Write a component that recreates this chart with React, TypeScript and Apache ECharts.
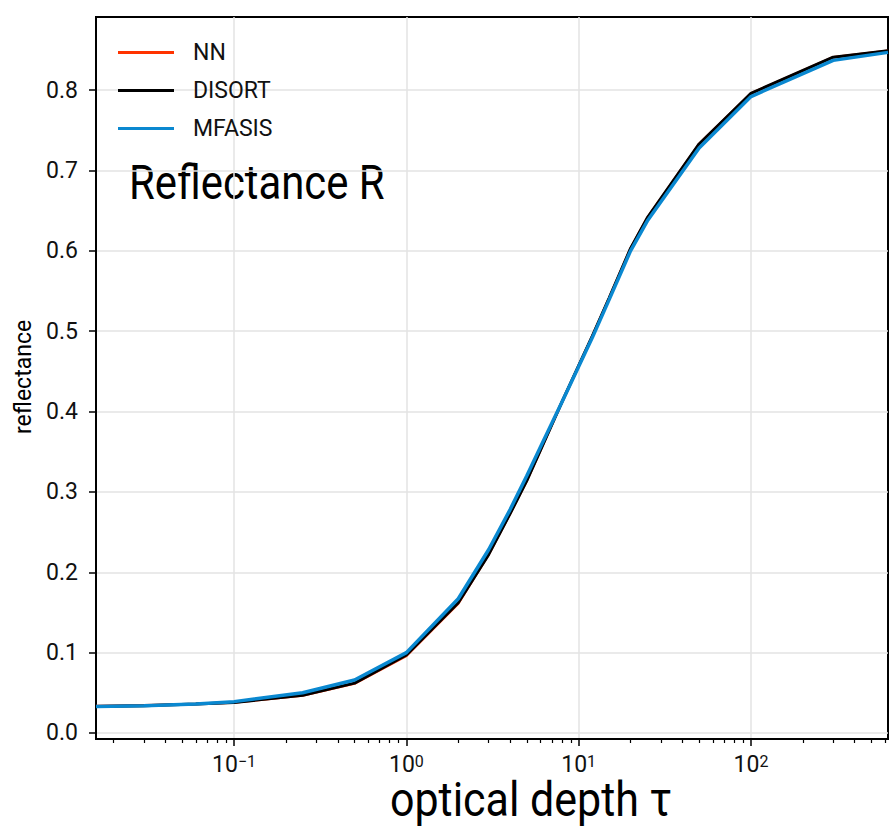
import React, { useEffect, useRef } from 'react';
import * as echarts from 'echarts';

// optical depth tau values
const tau = [0.0158, 0.03, 0.06, 0.1, 0.25, 0.5, 1, 2, 3, 4, 5, 6, 8, 10, 12, 15, 20, 25, 50, 100, 300, 624];
const nnValues = [0.0335, 0.0345, 0.036, 0.038, 0.0465, 0.0615, 0.096, 0.161, 0.222, 0.273, 0.314, 0.352, 0.412, 0.457, 0.494, 0.541, 0.603, 0.641, 0.733, 0.796, 0.841, 0.849];
const disortValues = [0.033, 0.034, 0.036, 0.038, 0.047, 0.062, 0.097, 0.162, 0.222, 0.273, 0.314, 0.352, 0.412, 0.457, 0.494, 0.541, 0.603, 0.641, 0.733, 0.796, 0.841, 0.849];
const mfasisValues = [0.033, 0.034, 0.036, 0.039, 0.050, 0.066, 0.100, 0.167, 0.228, 0.278, 0.320, 0.356, 0.412, 0.456, 0.492, 0.539, 0.600, 0.637, 0.728, 0.792, 0.837, 0.847];

const xMajorExp = [-1, 0, 1, 2];
const yTickValues = [0, 0.1, 0.2, 0.3, 0.4, 0.5, 0.6, 0.7, 0.8];
const seriesNames = ['NN', 'DISORT', 'MFASIS'];
const seriesColors = ['#ff3300', '#000000', '#0a88d0'];
const seriesWidths = [2.5, 3, 3.5];

const FONT = 'Roboto';

export default function App() {
  const ref = useRef<HTMLDivElement>(null);
  useEffect(() => {
    if (!ref.current) return;
    const chart = echarts.init(ref.current, null, { renderer: 'svg' });
    const xMin = Math.log10(tau[0]);
    const xMax = Math.log10(tau[tau.length - 1]);
    const minor: number[] = [];
    for (let n = -2; n <= 2; n++) {
      for (let k = 2; k <= 9; k++) {
        const v = Math.log10(k) + n;
        if (v > xMin && v < xMax) minor.push(v);
      }
    }
    const all = [nnValues, disortValues, mfasisValues];
    const series = all.map((vals, i) => ({
      name: seriesNames[i],
      type: 'line',
      xAxisIndex: 0,
      data: tau.map((t, j) => [Math.log10(t), vals[j]]),
      showSymbol: false,
      symbol: 'none',
      lineStyle: { color: seriesColors[i], width: seriesWidths[i] },
      itemStyle: { color: seriesColors[i] },
      z: 2 + i,
    }));
    chart.setOption({
      animation: false,
      grid: {
        left: 96, top: 17, right: 7, bottom: 90,
        show: true, borderColor: '#000', borderWidth: 2,
      },
      legend: {
        orient: 'vertical',
        left: 118, top: 40,
        padding: 0,
        icon: 'rect',
        itemWidth: 56,
        itemHeight: 3,
        itemGap: 13,
        data: seriesNames,
        textStyle: { fontFamily: FONT, fontSize: 23, color: '#111', lineHeight: 25, padding: [0, 0, 0, 14] },
      },
      xAxis: [
        {
          type: 'value', min: xMin, max: xMax,
          axisLine: { show: true, onZero: false, lineStyle: { color: '#000', width: 2 } },
          axisTick: { show: true, customValues: xMajorExp, length: 7, lineStyle: { color: '#000', width: 1.5 } },
          axisLabel: {
            customValues: xMajorExp,
            margin: 14,
            formatter: (v: number) => `{b|10}{s|${v < 0 ? '\u2212' : ''}${Math.abs(Math.round(v))}}`,
            rich: {
              b: { fontFamily: FONT, fontSize: 23, color: '#111', lineHeight: 22 },
              s: { fontFamily: FONT, fontSize: 16, color: '#111', lineHeight: 14, verticalAlign: 'top' },
            },
          },
          splitLine: { show: true, lineStyle: { color: '#e3e3e3', width: 1.5 } },
        },
        {
          type: 'value', min: xMin, max: xMax, position: 'bottom',
          axisLine: { show: false, onZero: false },
          axisTick: { show: true, customValues: minor, length: 4, lineStyle: { color: '#000', width: 1.2 } },
          axisLabel: { show: false },
          splitLine: { show: false },
        },
      ],
      yAxis: {
        type: 'value', min: -0.0075, max: 0.891,
        axisLine: { show: true, onZero: false, lineStyle: { color: '#000', width: 2 } },
        axisTick: { show: true, customValues: yTickValues, length: 7, lineStyle: { color: '#000', width: 1.5 } },
        axisLabel: {
          customValues: yTickValues,
          margin: 18,
          formatter: (v: number) => v.toFixed(1),
          fontFamily: FONT, fontSize: 23, color: '#111',
        },
        splitLine: { show: true, lineStyle: { color: '#e3e3e3', width: 1.5 } },
      },
      graphic: [
        {
          type: 'text', x: 129, y: 158, scaleX: 0.854,
          style: { text: 'Reflectance R', fontFamily: FONT, fontSize: 49, fill: '#000', align: 'left', verticalAlign: 'top' },
        },
        {
          type: 'text', x: 390, y: 776, scaleX: 0.895,
          style: { text: 'optical depth \u03c4', fontFamily: FONT, fontSize: 48, fill: '#000', align: 'left', verticalAlign: 'top' },
        },
        {
          type: 'text', x: 11, y: 434, rotation: Math.PI / 2, scaleX: 0.96,
          style: { text: 'reflectance', fontFamily: FONT, fontSize: 24, fill: '#000', align: 'left', verticalAlign: 'top' },
        },
      ],
      series,
    });
    return () => chart.dispose();
  }, []);
  return <div ref={ref} style={{ position: 'absolute', left: 0, top: 0, width: 895, height: 829 }} />;
}
